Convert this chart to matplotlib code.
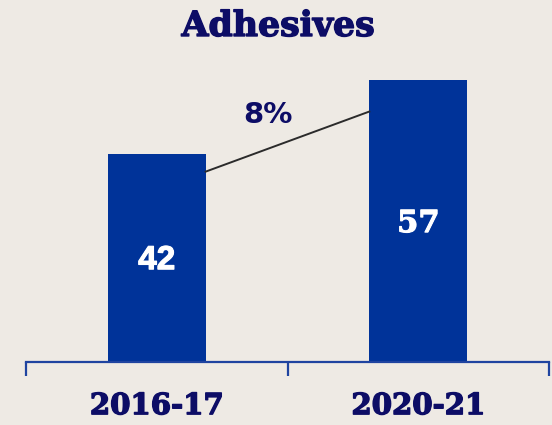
import matplotlib
matplotlib.use("Agg")
import matplotlib.pyplot as plt
import matplotlib.patheffects as pe

# Market size, Adhesives
categories = ["2016-17", "2020-21"]
values = [42, 57]
growth_label = "8%"
title = "Adhesives"

bg = "#EEEAE4"
bar_color = "#003399"
navy = "#0D0D66"
axis_color = "#1F44A0"

W, H = 552, 425
fig = plt.figure(figsize=(W / 100, H / 100), dpi=100, facecolor=bg)
ax = fig.add_axes([26 / W, (H - 362) / H, (549 - 26) / W, (362 - 60) / H])
ax.set_facecolor(bg)

x = list(range(len(categories)))
width = 0.374
bars = ax.bar(x, values, width=width, color=bar_color, zorder=2)
ax.set_xlim(-0.5, len(categories) - 0.5)
ax.set_ylim(0, 61.1)

# connector line between the bars showing growth
y0 = values[0] * 0.917
y1 = values[1] * 0.889
ax.plot([x[0] + width / 2, x[1] - width / 2], [y0, y1], color="#2B2B2B",
        lw=1.4, zorder=3)
ax.text(0.425, 50.0, growth_label, ha="center", va="center", fontsize=21,
        fontweight="bold", color=navy, family="DejaVu Sans")

heavy = [pe.withStroke(linewidth=1.0, foreground=navy)]

# value labels inside bars
label_fonts = ["Liberation Sans", "DejaVu Serif"]
label_sizes = [24, 22]
for xi, v, fam, fs in zip(x, values, label_fonts, label_sizes):
    ax.text(xi, v / 2 - 0.5, str(v), ha="center", va="center", fontsize=fs,
            fontweight="bold", color="white", family=fam, zorder=4,
            path_effects=[pe.withStroke(linewidth=0.8, foreground="white")])

# axis: baseline with bracket ticks at category boundaries
for s in ["top", "right", "left"]:
    ax.spines[s].set_visible(False)
ax.spines["bottom"].set_color(axis_color)
ax.spines["bottom"].set_linewidth(1.6)
ax.set_yticks([])
ax.set_xticks([-0.5, 0.5, 1.5])
ax.set_xticklabels([])
ax.tick_params(axis="x", length=10, width=1.6, color=axis_color, direction="out")
ax.set_xticks(x, minor=True)
ax.set_xticklabels(categories, minor=True, fontsize=21, fontweight="bold",
                   color=navy, family="DejaVu Serif")
for lbl in ax.get_xticklabels(minor=True):
    lbl.set_path_effects(heavy)
ax.tick_params(axis="x", which="minor", length=0, pad=21)

fig.text(278 / W, 1 - 26 / H, title, ha="center", va="center", fontsize=25,
         fontweight="bold", color=navy, family="DejaVu Serif",
         path_effects=heavy)

fig.savefig("out.png", dpi=100, facecolor=bg)
